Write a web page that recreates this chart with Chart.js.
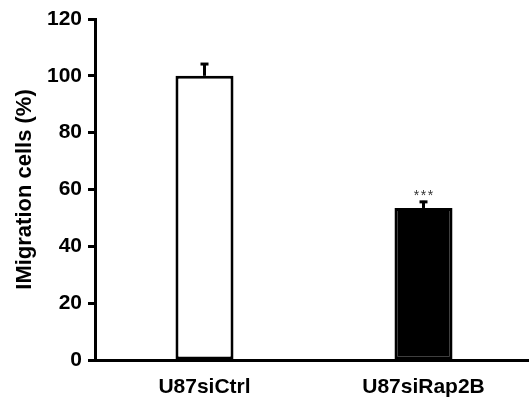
<!DOCTYPE html>
<html>
<head>
<meta charset="utf-8">
<script src="https://cdn.jsdelivr.net/npm/chart.js@4"></script>
<style>
html,body{margin:0;padding:0;background:#fff;overflow:hidden;}
#wrap{width:529px;height:403px;position:relative;overflow:hidden;}
</style>
</head>
<body>
<div id="wrap"><canvas id="c" width="533" height="403"></canvas></div>
<script>
const categories = ['U87siCtrl', 'U87siRap2B'];
const values = [100, 53.5];
const errors = [4.5, 2.5];
const significance = ['', '***'];
const barColors = ['#ffffff', '#000000'];
const yTicks = [0, 20, 40, 60, 80, 100, 120];

const errorBarPlugin = {
  id: 'errorBars',
  afterDatasetsDraw(chart) {
    const ctx = chart.ctx;
    const meta = chart.getDatasetMeta(0);
    const y = chart.scales.y;
    ctx.save();
    meta.data.forEach((bar, i) => {
      const x = bar.x;
      const top = y.getPixelForValue(values[i]);
      const hi = y.getPixelForValue(values[i] + errors[i]);
      ctx.strokeStyle = '#000';
      ctx.lineWidth = 3;
      ctx.beginPath();
      ctx.moveTo(x, top);
      ctx.lineTo(x, hi);
      ctx.stroke();
      ctx.beginPath();
      ctx.moveTo(x - 4, hi + 1);
      ctx.lineTo(x + 4, hi + 1);
      ctx.stroke();
      if (significance[i]) {
        ctx.fillStyle = '#333';
        ctx.font = '14px "Liberation Sans", Arial, sans-serif';
        ctx.textAlign = 'center';
        ctx.textBaseline = 'middle';
        const chars = significance[i].split('');
        const step = 7;
        chars.forEach((ch, k) => {
          ctx.fillText(ch, x + (k - (chars.length - 1) / 2) * step, hi - 5);
        });
      }
    });
    ctx.restore();
  }
};

new Chart(document.getElementById('c'), {
  type: 'bar',
  data: {
    labels: categories,
    datasets: [{
      data: values,
      backgroundColor: barColors,
      borderColor: '#000',
      borderWidth: 3,
      borderSkipped: false,
      categoryPercentage: 1,
      barPercentage: 0.265
    }]
  },
  options: {
    responsive: false,
    animation: false,
    devicePixelRatio: 1,
    layout: { padding: { top: 19, left: 0, right: 0, bottom: 0 } },
    plugins: { legend: { display: false }, tooltip: { enabled: false } },
    scales: {
      x: {
        grid: { display: false },
        border: { display: true, width: 3, color: '#000' },
        ticks: {
          color: '#000',
          font: { family: '"Liberation Sans", Arial, sans-serif', size: 21, weight: 'bold' },
          padding: 7
        },
        afterFit(scale) { scale.height = 43; }
      },
      y: {
        min: 0,
        max: 120,
        afterBuildTicks(scale) { scale.ticks = yTicks.map(v => ({ value: v })); },
        grid: { display: true, drawOnChartArea: false, drawTicks: true, tickLength: 7, tickWidth: 3, color: '#000' },
        border: { display: true, width: 3, color: '#000' },
        ticks: {
          color: '#000',
          font: { family: '"Liberation Sans", Arial, sans-serif', size: 21, weight: 'bold' },
          padding: 6
        },
        title: {
          display: true,
          text: 'IMigration cells (%)',
          color: '#000',
          font: { family: '"Liberation Sans", Arial, sans-serif', size: 22, weight: 'bold' },
          padding: { top: 12, bottom: 0 }
        },
        afterFit(scale) { scale.width = 95; }
      }
    }
  },
  plugins: [errorBarPlugin]
});
</script>
</body>
</html>
